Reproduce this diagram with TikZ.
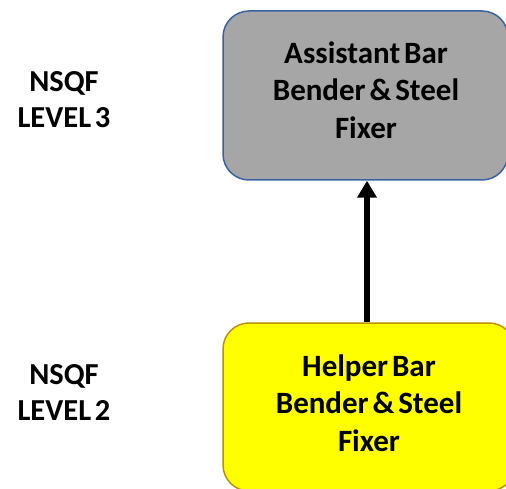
\documentclass[tikz,border=0pt]{standalone}
\usepackage{fontspec}
\setmainfont[WordSpace=0.55]{Carlito}
\usetikzlibrary{arrows.meta}
\definecolor{boxgray}{HTML}{A6A6A6}
\definecolor{boxblue}{HTML}{3A62A0}
\definecolor{boxyellow}{HTML}{FFFF00}
\definecolor{boxgold}{HTML}{BF9000}
\begin{document}
\begin{tikzpicture}[x=1pt,y=-1pt,
  txt/.style={font=\fontsize{31}{37.5}\selectfont\bfseries, align=center, inner sep=0pt},
  lvl/.style={font=\fontsize{30.5}{36}\selectfont\bfseries, align=center, inner sep=0pt},
  gbox/.style={draw=boxblue, fill=boxgray, line width=1.5pt, rounded corners=26pt, minimum width=285pt, minimum height=169pt, inner sep=0pt},
  ybox/.style={draw=boxgold, fill=boxyellow, line width=1.5pt, rounded corners=26pt, minimum width=292pt, minimum height=168pt, inner sep=0pt},
  uparrow/.style={line width=6.5pt, -{Triangle[length=17pt,width=19pt]}}
]
\useasboundingbox (0,0) rectangle (506,489);
\clip (0,0) rectangle (506,489);
\node[gbox] (top) at (365.5,95.5) {};
\node[ybox] (bot) at (369,407) {};
\node[txt] (toptext) at (366,90) {Assistant Bar\\Bender \& Steel\\Fixer};
\node[txt] (bottext) at (369,403) {Helper Bar\\Bender \& Steel\\Fixer};
\coordinate (ax) at (367,0);
\draw[uparrow] (bot.north -| ax) -- (top.south -| ax);
\node[lvl] (l3) at (64,100) {NSQF\\LEVEL 3};
\node[lvl] (l2) at (64,392) {NSQF\\LEVEL 2};
\end{tikzpicture}
\end{document}
